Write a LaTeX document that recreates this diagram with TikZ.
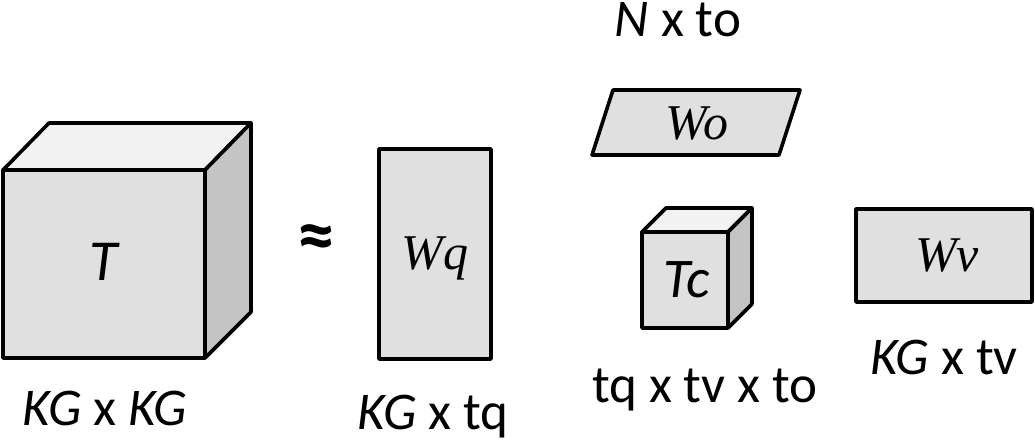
\documentclass[tikz,border=0pt]{standalone}
\usepackage{fontspec}
\setmainfont{Carlito}
\newfontfamily\timesfont{Liberation Serif}
\definecolor{frontgray}{HTML}{E0E0E0}
\definecolor{topgray}{HTML}{F2F2F2}
\definecolor{sidegray}{HTML}{C4C4C4}
\tikzset{
  face/.style={draw=black, line width=1.8pt, line join=round},
  dimlabel/.style={font=\fontsize{26.5}{30}\selectfont, inner sep=0pt},
  symlabel/.style={font=\fontsize{29}{33}\selectfont\itshape, inner sep=0pt},
  wlabel/.style={font=\fontsize{25}{29}\selectfont\timesfont\itshape, inner sep=0pt}
}
\begin{document}
\begin{tikzpicture}[x=0.5pt, y=-0.5pt]
\useasboundingbox (0,0) rectangle (1035,446);

% big tensor T
\filldraw[face, fill=frontgray] (3,170) rectangle (205,358);
\filldraw[face, fill=topgray] (3,170) -- (49,123) -- (251,123) -- (205,170) -- cycle;
\filldraw[face, fill=sidegray] (205,170) -- (251,123) -- (251,312) -- (205,358) -- cycle;
\node[symlabel] (T) at (104,262) {T};
\node[dimlabel] (Tdim) at (105,408) {\textit{KG} x \textit{KG}};

\node[font=\fontsize{38}{40}\selectfont\bfseries, inner sep=0pt] (approx) at (316,243) {≈};

% factor Wq
\filldraw[face, fill=frontgray] (379,149) rectangle (491,359);
\node[wlabel] (Wq) at (435,258) {Wq};
\node[dimlabel] (Wqdim) at (433,417) {\textit{KG} x tq};

% factor Wo
\node[dimlabel] (Wodim) at (678,20) {\textit{N} x to};
\filldraw[face, fill=frontgray] (613,90) -- (800,90) -- (779,155) -- (592,155) -- cycle;
\node[wlabel] (Wo) at (697,124) {Wo};

% core tensor Tc
\filldraw[face, fill=frontgray] (642,232) rectangle (728,328);
\filldraw[face, fill=topgray] (642,232) -- (666,208) -- (752,208) -- (728,232) -- cycle;
\filldraw[face, fill=sidegray] (728,232) -- (752,208) -- (752,304) -- (728,328) -- cycle;
\node[symlabel, font=\fontsize{28}{32}\selectfont\itshape] (Tc) at (687,280) {Tc};
\node[dimlabel] (Tcdim) at (705,390) {tq x tv x to};

% factor Wv
\filldraw[face, fill=frontgray] (856,209) rectangle (1032,302);
\node[wlabel] (Wv) at (947,256) {Wv};
\node[dimlabel] (Wvdim) at (944,357) {\textit{KG} x tv};

\end{tikzpicture}
\end{document}
